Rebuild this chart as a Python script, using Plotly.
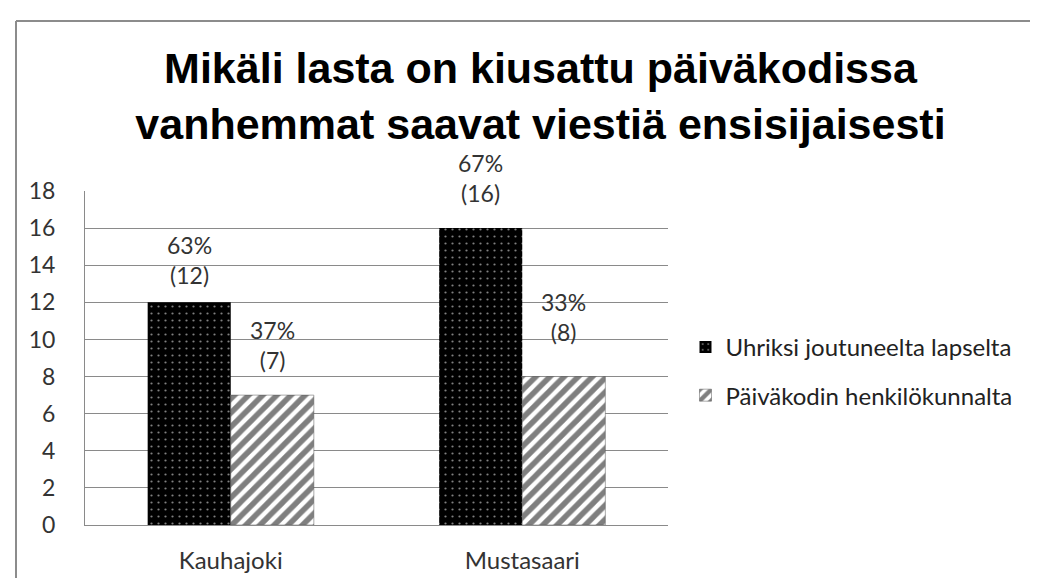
import plotly.graph_objects as go

# ============ Data ============
CATEGORIES = ["Kauhajoki", "Mustasaari"]
SERIES_NAMES = ["Uhriksi joutuneelta lapselta", "Päiväkodin henkilökunnalta"]
COUNTS_CHILD = [12, 16]
COUNTS_STAFF = [7, 8]
PCT_CHILD = [63, 67]
PCT_STAFF = [37, 33]
Y_TICKS = [0, 2, 4, 6, 8, 10, 12, 14, 16, 18]
TITLE = "Mikäli lasta on kiusattu päiväkodissa<br>vanhemmat saavat viestiä ensisijaisesti"
# ==============================

W, H = 1038, 578
L, R, T, B = 77, 378, 183, 57
TEXT_FONT = "Lato, 'Open Sans', sans-serif"
GRID = "#8a8a8a"
BARGAP = 0.43
# extra lift (px) of each label pair, the labels were nudged by hand in the original
LABEL_LIFT = [[0, 8], [8, 18]]  # [series][category]

fig = go.Figure()
fig.add_trace(go.Bar(
    x=CATEGORIES, y=COUNTS_CHILD, name=SERIES_NAMES[0], legendgroup="a",
    marker=dict(color="black", line=dict(width=0),
                pattern=dict(shape=".", fgcolor="white", bgcolor="black",
                             size=7, solidity=0.08)),
))
fig.add_trace(go.Bar(
    x=CATEGORIES, y=COUNTS_STAFF, name=SERIES_NAMES[1], legendgroup="b",
    marker=dict(color="white", line=dict(width=0.5, color="#555"),
                pattern=dict(shape="/", fgcolor="black", bgcolor="white",
                             size=10, solidity=0.55)),
))

# data labels: percent and count above each bar
plot_w = W - L - R
bar_px = plot_w / len(CATEGORIES) * (1 - BARGAP) / 2
for series, (counts, pcts) in enumerate([(COUNTS_CHILD, PCT_CHILD), (COUNTS_STAFF, PCT_STAFF)]):
    for i, (cat, c, p) in enumerate(zip(CATEGORIES, counts, pcts)):
        fig.add_annotation(
            x=cat, y=c, xref="x", yref="y",
            text=f"{p}%<br>({c})", showarrow=False,
            xshift=(series - 0.5) * bar_px, yshift=11 + LABEL_LIFT[series][i],
            yanchor="bottom",
            font=dict(family=TEXT_FONT, size=23, color="#333"),
        )

# outer chart border (top and left edges visible)
px = lambda v: (v - L) / plot_w
py = lambda v: (H - B - v) / (H - T - B)
fig.add_shape(type="line", xref="paper", yref="paper",
              x0=px(8), x1=px(1045), y0=py(11), y1=py(11),
              line=dict(color="#8c8c8c", width=2))
fig.add_shape(type="line", xref="paper", yref="paper",
              x0=px(8), x1=px(8), y0=py(11), y1=py(590),
              line=dict(color="#8c8c8c", width=2))

fig.update_layout(
    width=W, height=H,
    margin=dict(l=L, r=R, t=T, b=B),
    paper_bgcolor="white", plot_bgcolor="white",
    barmode="group", bargap=BARGAP, bargroupgap=0,
    title=dict(text=TITLE, x=0.513, xanchor="center", y=0.870, yanchor="top",
               font=dict(family="'Liberation Sans', Arial, sans-serif", size=43,
                         color="black", weight="bold")),
    legend=dict(x=1.03, xanchor="left", y=0.46, yanchor="middle",
                font=dict(family=TEXT_FONT, size=24, color="#222"),
                tracegroupgap=14, traceorder="grouped"),
    font=dict(family=TEXT_FONT, size=24, color="#333"),
)
fig.update_yaxes(range=[0, 18], tickvals=Y_TICKS, showgrid=True, gridcolor=GRID,
                 gridwidth=1, showline=True, linecolor=GRID, linewidth=1,
                 ticks="", ticklabelstandoff=24, zeroline=False,
                 tickfont=dict(family=TEXT_FONT, size=23, color="#333"))
fig.update_xaxes(showline=True, linecolor=GRID, linewidth=1, ticks="",
                 ticklabelstandoff=14,
                 tickfont=dict(family=TEXT_FONT, size=24, color="#333"))

fig.write_html("out.html")
